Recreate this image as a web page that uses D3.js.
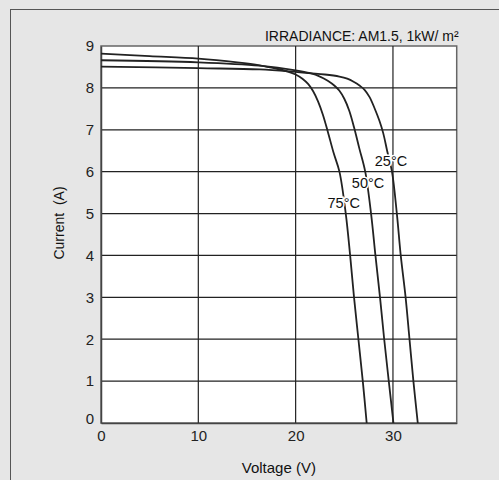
<!DOCTYPE html>
<html>
<head>
<meta charset="utf-8">
<script src="https://cdn.jsdelivr.net/npm/d3@7"></script>
<style>
  html, body { margin: 0; padding: 0; background: #e6e6e6; }
  svg { display: block; font-family: "Liberation Sans", Arial, sans-serif; }
</style>
</head>
<body>
<div id="chart"></div>
<script>
// curvas I-V (V, A)
const curva25 = [[0, 8.51], [10, 8.47], [16.3, 8.44], [20, 8.38], [23, 8.32], [24.5, 8.27], [25.3, 8.22], [26.0, 8.14], [26.6, 8.05], [27.06, 7.96], [27.6, 7.78], [28.1, 7.52], [28.6, 7.22], [29.0, 6.92], [29.4, 6.5], [29.9, 6.0], [30.4, 5.0], [30.8, 4.0], [31.3, 3.0], [31.7, 2.0], [32.1, 1.0], [32.55, 0]];
const curva50 = [[0, 8.66], [10, 8.61], [16.3, 8.53], [20, 8.42], [21.5, 8.35], [22.5, 8.27], [23.3, 8.17], [24.0, 8.05], [24.5, 7.93], [25.0, 7.74], [25.5, 7.46], [26.0, 7.06], [26.55, 6.55], [27.15, 6.0], [27.75, 5.0], [28.2, 4.0], [28.67, 3.0], [29.1, 2.0], [29.57, 1.0], [30.05, 0]];
const curva75 = [[0, 8.82], [5, 8.76], [10, 8.70], [14, 8.61], [16.3, 8.54], [18, 8.46], [19.2, 8.39], [20, 8.32], [20.7, 8.22], [21.3, 8.09], [21.8, 7.92], [22.3, 7.68], [22.8, 7.36], [23.3, 6.96], [23.9, 6.45], [24.5, 6.0], [25.15, 5.0], [25.6, 4.0], [26.0, 3.0], [26.45, 2.0], [26.9, 1.0], [27.3, 0]];

const series = [curva25, curva50, curva75];
const etiquetas = ["25°C", "50°C", "75°C"];
const etiquetasPos = [[29.8, 6.13], [27.44, 5.61], [24.94, 5.13]];

const xTicks = [0, 10, 20, 30];
const yTicks = [0, 1, 2, 3, 4, 5, 6, 7, 8, 9];
const xDominio = [0, 36.55];
const yDominio = [0, 9];

const titulo = "IRRADIANCE: AM1.5, 1kW/ m²";
const tituloX = "Voltage (V)";
const tituloY = "Current  (A)";

const width = 499, height = 480;
const margin = { left: 101, right: 42.3, top: 46, bottom: 57 };

const svg = d3.select("#chart").append("svg")
  .attr("width", width)
  .attr("height", height);

// fondo y marco exterior
svg.append("rect")
  .attr("x", 0).attr("y", 0)
  .attr("width", width).attr("height", height)
  .attr("fill", "#e6e6e6");
svg.append("rect")
  .attr("x", 10.5).attr("y", 9.5)
  .attr("width", width + 10).attr("height", height + 10)
  .attr("fill", "none")
  .attr("stroke", "#555")
  .attr("stroke-width", 1);

const x = d3.scaleLinear().domain(xDominio).range([margin.left, width - margin.right]);
const y = d3.scaleLinear().domain(yDominio).range([height - margin.bottom, margin.top]);

// area del grafico
svg.append("rect")
  .attr("x", x(xDominio[0])).attr("y", y(yDominio[1]))
  .attr("width", x(xDominio[1]) - x(xDominio[0]))
  .attr("height", y(yDominio[0]) - y(yDominio[1]))
  .attr("fill", "#fff")
  .attr("stroke", "#666")
  .attr("stroke-width", 1.5);

// rejilla
const grid = svg.append("g").attr("stroke", "#222").attr("stroke-width", 1.2);
grid.selectAll("line.v")
  .data(xTicks.filter(d => d > 0))
  .join("line")
  .attr("class", "v")
  .attr("x1", d => x(d)).attr("x2", d => x(d))
  .attr("y1", y(yDominio[0])).attr("y2", y(yDominio[1]));
grid.selectAll("line.h")
  .data(yTicks.filter(d => d > 0 && d < 9))
  .join("line")
  .attr("class", "h")
  .attr("x1", x(xDominio[0])).attr("x2", x(xDominio[1]))
  .attr("y1", d => y(d)).attr("y2", d => y(d));

// ejes
const xAxis = svg.append("g")
  .attr("transform", `translate(0,${y(0)})`)
  .call(d3.axisBottom(x).tickValues(xTicks).tickSize(0).tickPadding(7));
const yAxis = svg.append("g")
  .attr("transform", `translate(${x(0)},0)`)
  .call(d3.axisLeft(y).tickValues(yTicks).tickSize(0).tickPadding(7));
[xAxis, yAxis].forEach(a => {
  a.select(".domain").attr("stroke", "#444").attr("stroke-width", 1.5);
  a.selectAll("text").attr("font-size", 15).attr("fill", "#222")
    .attr("font-family", "'Liberation Sans', Arial, sans-serif");
});
yAxis.selectAll(".tick").filter(d => d === 0).select("text").attr("dy", "0.05em");

// curvas
const linea = d3.line()
  .x(d => x(d[0]))
  .y(d => y(d[1]))
  .curve(d3.curveCatmullRom.alpha(0.5));

svg.append("g")
  .selectAll("path")
  .data(series)
  .join("path")
  .attr("d", linea)
  .attr("fill", "none")
  .attr("stroke", "#222")
  .attr("stroke-width", 1.8);

// etiquetas de temperatura
svg.append("g")
  .selectAll("text")
  .data(etiquetas)
  .join("text")
  .attr("x", (d, i) => x(etiquetasPos[i][0]))
  .attr("y", (d, i) => y(etiquetasPos[i][1]))
  .attr("text-anchor", "middle")
  .attr("font-size", 14.5)
  .attr("fill", "#111")
  .attr("stroke", "#fff")
  .attr("stroke-width", 3)
  .attr("paint-order", "stroke")
  .text(d => d);

// titulos
svg.append("text")
  .attr("x", x(xDominio[1]) + 2)
  .attr("y", 40.5)
  .attr("text-anchor", "end")
  .attr("font-size", 14)
  .attr("fill", "#111")
  .text(titulo);

svg.append("text")
  .attr("x", (x(xDominio[0]) + x(xDominio[1])) / 2)
  .attr("y", 473)
  .attr("text-anchor", "middle")
  .attr("font-size", 15)
  .attr("fill", "#111")
  .text(tituloX);

svg.append("text")
  .attr("transform", `translate(64,223) rotate(-90)`)
  .attr("text-anchor", "middle")
  .attr("font-size", 14)
  .attr("fill", "#111")
  .style("white-space", "pre")
  .text(tituloY);
</script>
</body>
</html>
